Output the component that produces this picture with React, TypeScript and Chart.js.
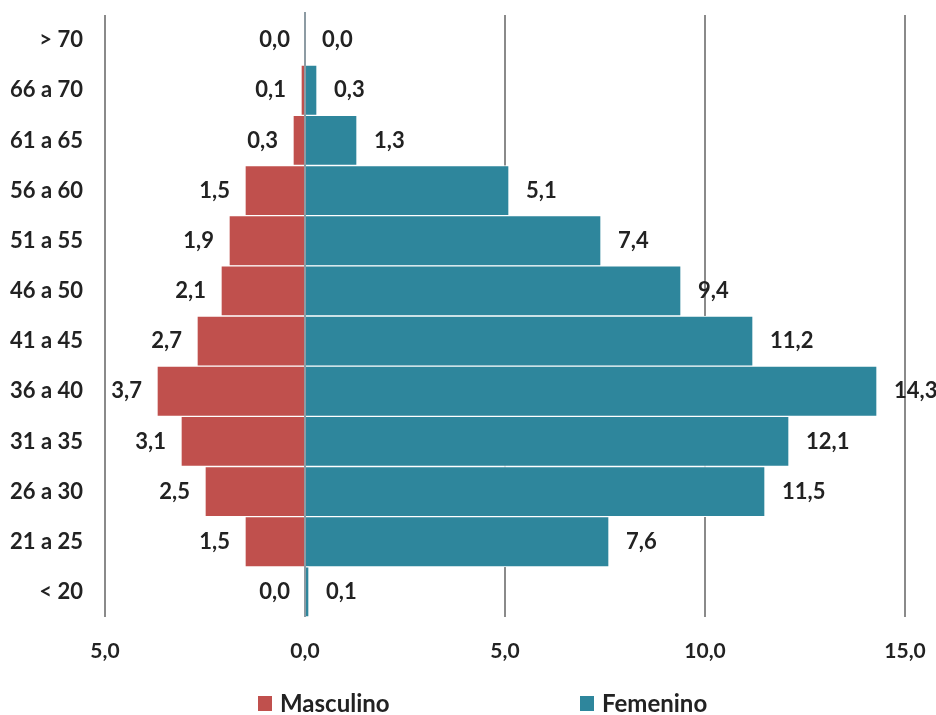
import React, { useEffect, useRef } from 'react';
import { Chart, registerables } from 'chart.js';

Chart.register(...registerables);

const categories = ['> 70', '66 a 70', '61 a 65', '56 a 60', '51 a 55', '46 a 50', '41 a 45', '36 a 40', '31 a 35', '26 a 30', '21 a 25', '< 20'];
const masculino = [0.0, 0.1, 0.3, 1.5, 1.9, 2.1, 2.7, 3.7, 3.1, 2.5, 1.5, 0.0];
const femenino = [0.0, 0.3, 1.3, 5.1, 7.4, 9.4, 11.2, 14.3, 12.1, 11.5, 7.6, 0.1];
const xTicks = [-5, 0, 5, 10, 15];
const seriesNames = ['Masculino', 'Femenino'];

const RED = '#C0504D';
const TEAL = '#2E869C';
const TEXT = '#222222';
const FONT = 'Lato, "Open Sans", sans-serif';

const fmt = (v: number) => Math.abs(v).toFixed(1).replace('.', ',');

export default function App() {
  const ref = useRef<HTMLCanvasElement | null>(null);

  useEffect(() => {
    let chart: Chart | null = null;
    let cancelled = false;

    const labelsPlugin = {
      id: 'pyrLabels',
      afterDatasetsDraw(c: any) {
        const ctx = c.ctx;
        const xs = c.scales.x;
        const zx = xs.getPixelForValue(0);
        ctx.save();
        ctx.strokeStyle = '#8d9ba3';
        ctx.lineWidth = 2;
        ctx.beginPath();
        ctx.moveTo(zx, c.chartArea.top - 3);
        ctx.lineTo(zx, c.chartArea.bottom);
        ctx.stroke();

        ctx.font = `bold 22px ${FONT}`;
        ctx.fillStyle = TEXT;
        ctx.textBaseline = 'middle';
        c.data.datasets.forEach((ds: any, di: number) => {
          const meta = c.getDatasetMeta(di);
          meta.data.forEach((el: any, i: number) => {
            const v = ds.data[i];
            if (di === 0) {
              ctx.textAlign = 'right';
              ctx.fillText(fmt(v), el.x - 15, el.y);
            } else {
              ctx.textAlign = 'left';
              ctx.fillText(fmt(v), el.x + 17, el.y);
            }
          });
        });
        ctx.restore();
      },
    };

    const legendPlugin = {
      id: 'customLegend',
      afterDraw(c: any) {
        const ctx = c.ctx;
        ctx.save();
        const items = [
          { x: 258, color: RED, text: seriesNames[0] },
          { x: 580, color: TEAL, text: seriesNames[1] },
        ];
        ctx.font = `bold 24px ${FONT}`;
        ctx.textBaseline = 'middle';
        ctx.textAlign = 'left';
        items.forEach((it) => {
          ctx.fillStyle = it.color;
          ctx.fillRect(it.x, 696, 14, 15);
          ctx.fillStyle = TEXT;
          ctx.fillText(it.text, it.x + 22, 704);
        });
        ctx.restore();
      },
    };

    const make = () => {
      if (cancelled || !ref.current) return;
      chart = new Chart(ref.current, {
        type: 'bar',
        data: {
          labels: categories,
          datasets: [
            {
              label: seriesNames[0],
              data: masculino.map((v) => -v),
              backgroundColor: RED,
              borderColor: '#ffffff',
              borderWidth: 1,
              barPercentage: 1,
              categoryPercentage: 1,
            },
            {
              label: seriesNames[1],
              data: femenino,
              backgroundColor: TEAL,
              borderColor: '#ffffff',
              borderWidth: 1,
              barPercentage: 1,
              categoryPercentage: 1,
            },
          ],
        },
        options: {
          indexAxis: 'y',
          animation: false,
          responsive: false,
          maintainAspectRatio: false,
          layout: { padding: { top: 15, right: 31, left: 0, bottom: 0 } },
          plugins: {
            legend: { display: false },
            tooltip: { enabled: false },
          },
          scales: {
            x: {
              stacked: true,
              min: -5,
              max: 15,
              afterBuildTicks: (s: any) => {
                s.ticks = xTicks.map((v) => ({ value: v }));
              },
              afterFit: (s: any) => {
                s.height = 98;
                s.paddingLeft = 0;
                s.paddingRight = 0;
              },
              ticks: {
                callback: (v: any) => fmt(Number(v)),
                font: { family: FONT, weight: 'bold', size: 21 },
                color: TEXT,
                padding: 22,
                maxRotation: 0,
              },
              grid: {
                color: '#8a8a8a',
                lineWidth: 2,
                drawTicks: false,
              },
              border: { display: false },
            },
            y: {
              stacked: true,
              afterFit: (s: any) => {
                s.width = 105;
                s.paddingTop = 0;
                s.paddingBottom = 0;
              },
              ticks: {
                font: { family: FONT, weight: 'bold', size: 22 },
                color: TEXT,
                padding: 22,
              },
              grid: { display: false, drawTicks: false },
              border: { display: false },
            },
          },
        },
        plugins: [labelsPlugin, legendPlugin],
      } as any);
    };

    const fontsReady = (document as any).fonts
      ? Promise.all([
          (document as any).fonts.load(`bold 20px Lato`),
          (document as any).fonts.load(`bold 24px Lato`),
        ]).catch(() => null)
      : Promise.resolve(null);
    fontsReady.then(make);

    return () => {
      cancelled = true;
      if (chart) chart.destroy();
    };
  }, []);

  return (
    <div style={{ position: 'absolute', left: 0, top: 0, width: 936, height: 715, background: '#ffffff' }}>
      <canvas ref={ref} width={936} height={715} style={{ width: 936, height: 715, display: 'block' }} />
    </div>
  );
}
